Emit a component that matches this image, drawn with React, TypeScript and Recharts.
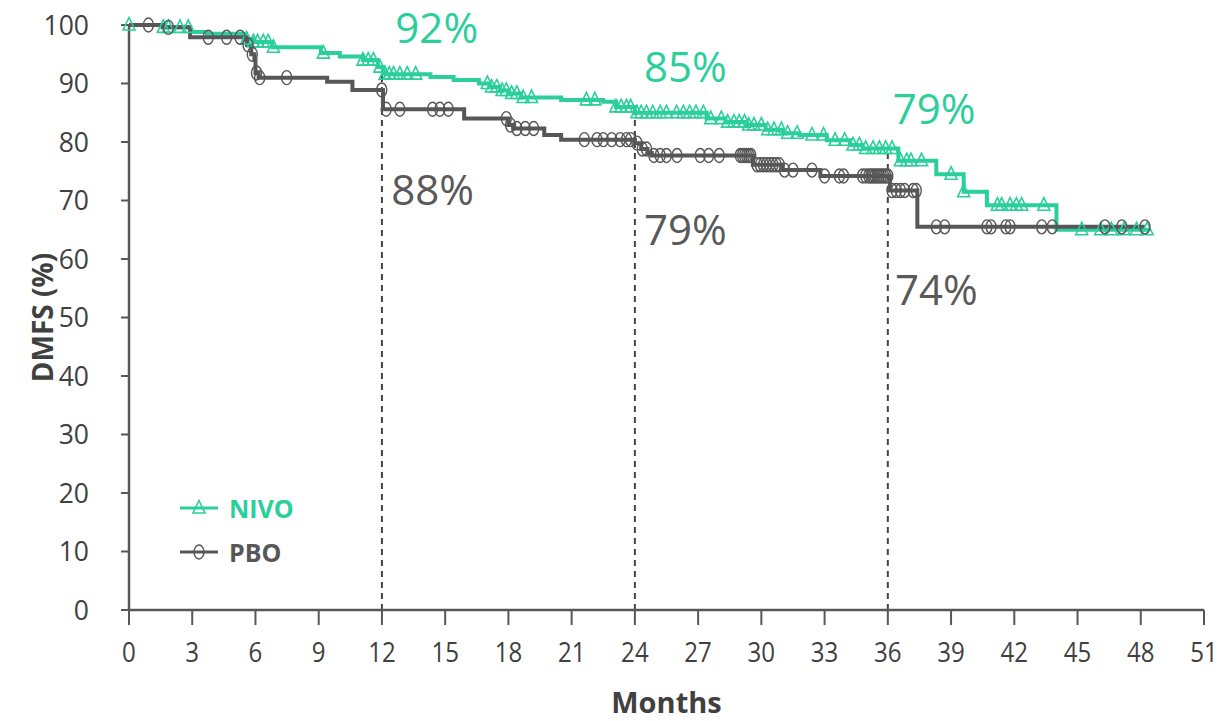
import React from "react";
import {
  ComposedChart,
  Line,
  Scatter,
  XAxis,
  YAxis,
  ReferenceLine,
  ReferenceDot,
} from "recharts";

// ---- data ----
const xTicks = [0, 3, 6, 9, 12, 15, 18, 21, 24, 27, 30, 33, 36, 39, 42, 45, 48, 51];
const yTicks = [0, 10, 20, 30, 40, 50, 60, 70, 80, 90, 100];

// NIVO Kaplan-Meier steps (month, DMFS %)
const nivoTime = [0, 1.6, 2.9, 3.7, 5.5, 5.9, 6.8, 9.1, 10.0, 11.1, 11.8, 12.05, 14.3, 15.4, 16.6, 17.1, 17.6, 18.0, 18.6, 20.5, 22.5, 23.1, 24.0, 27.4, 28.3, 29.3, 30.2, 31.0, 31.8, 33.1, 34.2, 34.8, 36.5, 38.3, 39.6, 40.7, 44.0, 48.4];
const nivoSurv = [100, 99.6, 98.8, 98.5, 97.6, 97.1, 96.2, 95.2, 94.6, 94.0, 92.8, 91.6, 91.1, 90.6, 90.0, 89.4, 88.8, 88.3, 87.6, 87.2, 86.9, 86.0, 85.0, 84.0, 83.4, 82.9, 82.1, 81.5, 81.2, 80.3, 79.5, 78.9, 76.8, 74.5, 71.5, 69.2, 65.0, 65.0];
const nivoCensor = [0, 1.63, 1.87, 2.42, 2.81, 5.58, 5.9, 6.1, 6.37, 6.6, 6.85, 9.22, 11.1, 11.35, 11.6, 11.9, 12.15, 12.35, 12.55, 12.85, 13.2, 13.6, 17.0, 17.2, 17.45, 17.7, 17.9, 18.15, 18.4, 18.7, 19.1, 21.7, 22.1, 23.1, 23.35, 23.6, 23.8, 24.1, 24.3, 24.55, 24.85, 25.2, 25.5, 25.98, 26.3, 26.6, 26.9, 27.25, 27.6, 28.1, 28.4, 28.7, 28.95, 29.2, 29.4, 29.65, 30.0, 30.3, 30.6, 30.95, 31.25, 31.7, 32.4, 32.95, 33.5, 33.95, 34.35, 34.65, 34.95, 35.3, 35.6, 35.9, 36.2, 36.6, 36.9, 37.1, 37.6, 39.0, 39.6, 41.2, 41.4, 41.8, 42.1, 42.35, 43.4, 45.2, 46.1, 46.6, 47.2, 47.8, 48.3];

// PBO Kaplan-Meier steps
const pboTime = [0, 1.6, 2.9, 5.6, 5.8, 5.95, 6.0, 6.15, 9.4, 10.6, 12.05, 15.9, 18.0, 18.25, 19.7, 20.5, 24.0, 24.3, 24.6, 24.8, 29.6, 31.0, 32.8, 36.1, 37.4, 48.2];
const pboSurv = [100, 99.6, 97.9, 96.6, 95.0, 94.0, 91.8, 91.0, 90.3, 88.9, 85.6, 84.0, 82.9, 82.3, 81.2, 80.4, 79.8, 78.8, 78.1, 77.7, 76.1, 75.2, 74.2, 71.7, 65.5, 65.5];
const pboCensor = [0.92, 1.87, 3.76, 4.63, 5.27, 5.65, 5.85, 6.05, 6.2, 7.48, 11.99, 12.2, 12.85, 14.4, 14.75, 15.15, 17.9, 18.1, 18.4, 18.8, 19.2, 21.6, 22.2, 22.5, 22.9, 23.3, 23.6, 23.8, 24.1, 24.35, 24.55, 24.9, 25.2, 25.5, 26.0, 27.1, 27.5, 28.0, 29.0, 29.1, 29.2, 29.3, 29.4, 29.5, 29.8, 29.95, 30.1, 30.25, 30.4, 30.55, 30.7, 30.85, 31.1, 31.5, 32.4, 33.0, 33.7, 33.9, 34.8, 34.95, 35.1, 35.2, 35.3, 35.4, 35.5, 35.6, 35.7, 35.8, 35.9, 36.0, 36.2, 36.4, 36.6, 36.8, 37.2, 37.35, 38.3, 38.7, 40.7, 40.9, 41.6, 41.8, 43.3, 43.8, 46.3, 47.1, 48.2];

const landmarks = [12, 24, 36];
const nivoLabels = ["92%", "85%", "79%"];
const pboLabels = ["88%", "79%", "74%"];
const seriesNames = ["NIVO", "PBO"];

// ---- layout / style ----
const GREEN = "#2bcf9c";
const GRAY = "#575757";
const TEXT = "#404040";
const FONT = "'Open Sans', 'Noto Sans', sans-serif";
const nivoLabelPos = [
  { x: 14.6, y: 99.4 },
  { x: 26.4, y: 92.8 },
  { x: 38.2, y: 85.6 },
];
const pboLabelPos = [
  { x: 14.4, y: 71.8 },
  { x: 26.4, y: 65.0 },
  { x: 38.3, y: 54.7 },
];

const survAt = (times: number[], survs: number[], t: number) => {
  let v = survs[0];
  for (let i = 0; i < times.length; i++) {
    if (times[i] <= t) v = survs[i];
  }
  return v;
};

const nivoLine = nivoTime.map((t, i) => ({ x: t, y: nivoSurv[i] }));
const pboLine = pboTime.map((t, i) => ({ x: t, y: pboSurv[i] }));
const nivoMarks = nivoCensor.map((t) => ({ x: t, y: survAt(nivoTime, nivoSurv, t) }));
const pboMarks = pboCensor.map((t) => ({ x: t, y: survAt(pboTime, pboSurv, t) }));

const Triangle = (props: any) => {
  const { cx, cy } = props;
  if (cx == null || cy == null) return null;
  return (
    <path
      d={`M${cx},${cy - 7.5} L${cx - 6},${cy + 5} L${cx + 6},${cy + 5} Z`}
      fill="none"
      stroke={GREEN}
      strokeWidth={1.6}
    />
  );
};

const Oval = (props: any) => {
  const { cx, cy } = props;
  if (cx == null || cy == null) return null;
  return <ellipse cx={cx} cy={cy} rx={5} ry={7} fill="none" stroke={GRAY} strokeWidth={1.4} />;
};

const XTick = (props: any) => {
  const { x, y, payload } = props;
  return (
    <g transform={`translate(${x},${y + 35})`}>
      <text textAnchor="middle" transform="scale(0.86,1)" fontSize={28} fill={TEXT} fontFamily={FONT}>
        {payload.value}
      </text>
    </g>
  );
};

const YTick = (props: any) => {
  const { x, y, payload } = props;
  return (
    <text x={x - 14} y={y + 9.5} textAnchor="end" fontSize={26.5} fill={TEXT} fontFamily={FONT}>
      {payload.value}
    </text>
  );
};

const LegendBox = () => (
  <div style={{ position: "absolute", left: 180, top: 486, fontFamily: FONT }}>
    {seriesNames.map((name, i) => (
      <div key={name} style={{ display: "flex", alignItems: "center", height: 44 }}>
        <svg width={38} height={20}>
          <line x1={0} y1={10} x2={38} y2={10} stroke={i === 0 ? GREEN : GRAY} strokeWidth={3} />
          {i === 0 ? (
            <path d="M19,2.5 L13,15 L25,15 Z" fill="none" stroke={GREEN} strokeWidth={1.6} />
          ) : (
            <ellipse cx={19} cy={10} rx={5} ry={7} fill="none" stroke={GRAY} strokeWidth={1.4} />
          )}
        </svg>
        <span
          style={{
            marginLeft: 11,
            fontSize: 25,
            fontWeight: 700,
            color: i === 0 ? GREEN : GRAY,
            lineHeight: "44px",
          }}
        >
          {name}
        </span>
      </div>
    ))}
  </div>
);

export default function App() {
  return (
    <div style={{ position: "absolute", left: 0, top: 0, width: 1229, height: 721, background: "#fff" }}>
      <ComposedChart width={1229} height={721} margin={{ top: 25, right: 25, left: 0, bottom: 0 }}>
        <XAxis
          type="number"
          dataKey="x"
          domain={[0, 51]}
          ticks={xTicks}
          interval={0}
          height={111}
          tickSize={15}
          tick={<XTick />}
          axisLine={{ stroke: GRAY, strokeWidth: 2.5 }}
          tickLine={{ stroke: GRAY, strokeWidth: 2 }}
          label={{
            content: (p: any) => {
              const vb = p.viewBox;
              return (
                <text
                  x={vb.x + vb.width / 2}
                  y={713}
                  textAnchor="middle"
                  fontSize={29}
                  fontWeight={700}
                  fill={TEXT}
                  fontFamily={FONT}
                >
                  Months
                </text>
              );
            },
          }}
        />
        <YAxis
          type="number"
          dataKey="y"
          domain={[0, 100]}
          ticks={yTicks}
          interval={0}
          width={129}
          tickSize={8}
          tickMargin={18}
          tick={<YTick />}
          axisLine={{ stroke: GRAY, strokeWidth: 2.5 }}
          tickLine={{ stroke: GRAY, strokeWidth: 2 }}
          label={{
            content: (p: any) => {
              const vb = p.viewBox;
              const cy = vb.y + vb.height / 2;
              return (
                <text
                  x={42}
                  y={cy}
                  transform={`rotate(-90, 42, ${cy})`}
                  textAnchor="middle"
                  dominantBaseline="central"
                  fontSize={28}
                  fontWeight={700}
                  fill={TEXT}
                  fontFamily={FONT}
                >
                  DMFS (%)
                </text>
              );
            },
          }}
        />
        {landmarks.map((m) => (
          <ReferenceLine
            key={m}
            segment={[
              { x: m, y: 0 },
              { x: m, y: survAt(nivoTime, nivoSurv, m) },
            ]}
            stroke="#444"
            strokeWidth={2}
            strokeDasharray="6 5"
          />
        ))}
        <Line
          data={nivoLine}
          dataKey="y"
          type="stepAfter"
          stroke={GREEN}
          strokeWidth={4}
          dot={false}
          activeDot={false}
          isAnimationActive={false}
        />
        <Line
          data={pboLine}
          dataKey="y"
          type="stepAfter"
          stroke={GRAY}
          strokeWidth={4}
          dot={false}
          activeDot={false}
          isAnimationActive={false}
        />
        <Scatter data={nivoMarks} dataKey="y" shape={<Triangle />} isAnimationActive={false} />
        <Scatter data={pboMarks} dataKey="y" shape={<Oval />} isAnimationActive={false} />
        {nivoLabels.map((t, i) => (
          <ReferenceDot
            key={"n" + t + i}
            x={nivoLabelPos[i].x}
            y={nivoLabelPos[i].y}
            r={0}
            stroke="none"
            label={{ value: t, position: "center", fill: GREEN, fontSize: 42, fontFamily: FONT }}
          />
        ))}
        {pboLabels.map((t, i) => (
          <ReferenceDot
            key={"p" + t + i}
            x={pboLabelPos[i].x}
            y={pboLabelPos[i].y}
            r={0}
            stroke="none"
            label={{ value: t, position: "center", fill: "#595959", fontSize: 42, fontFamily: FONT }}
          />
        ))}
      </ComposedChart>
      <LegendBox />
    </div>
  );
}
